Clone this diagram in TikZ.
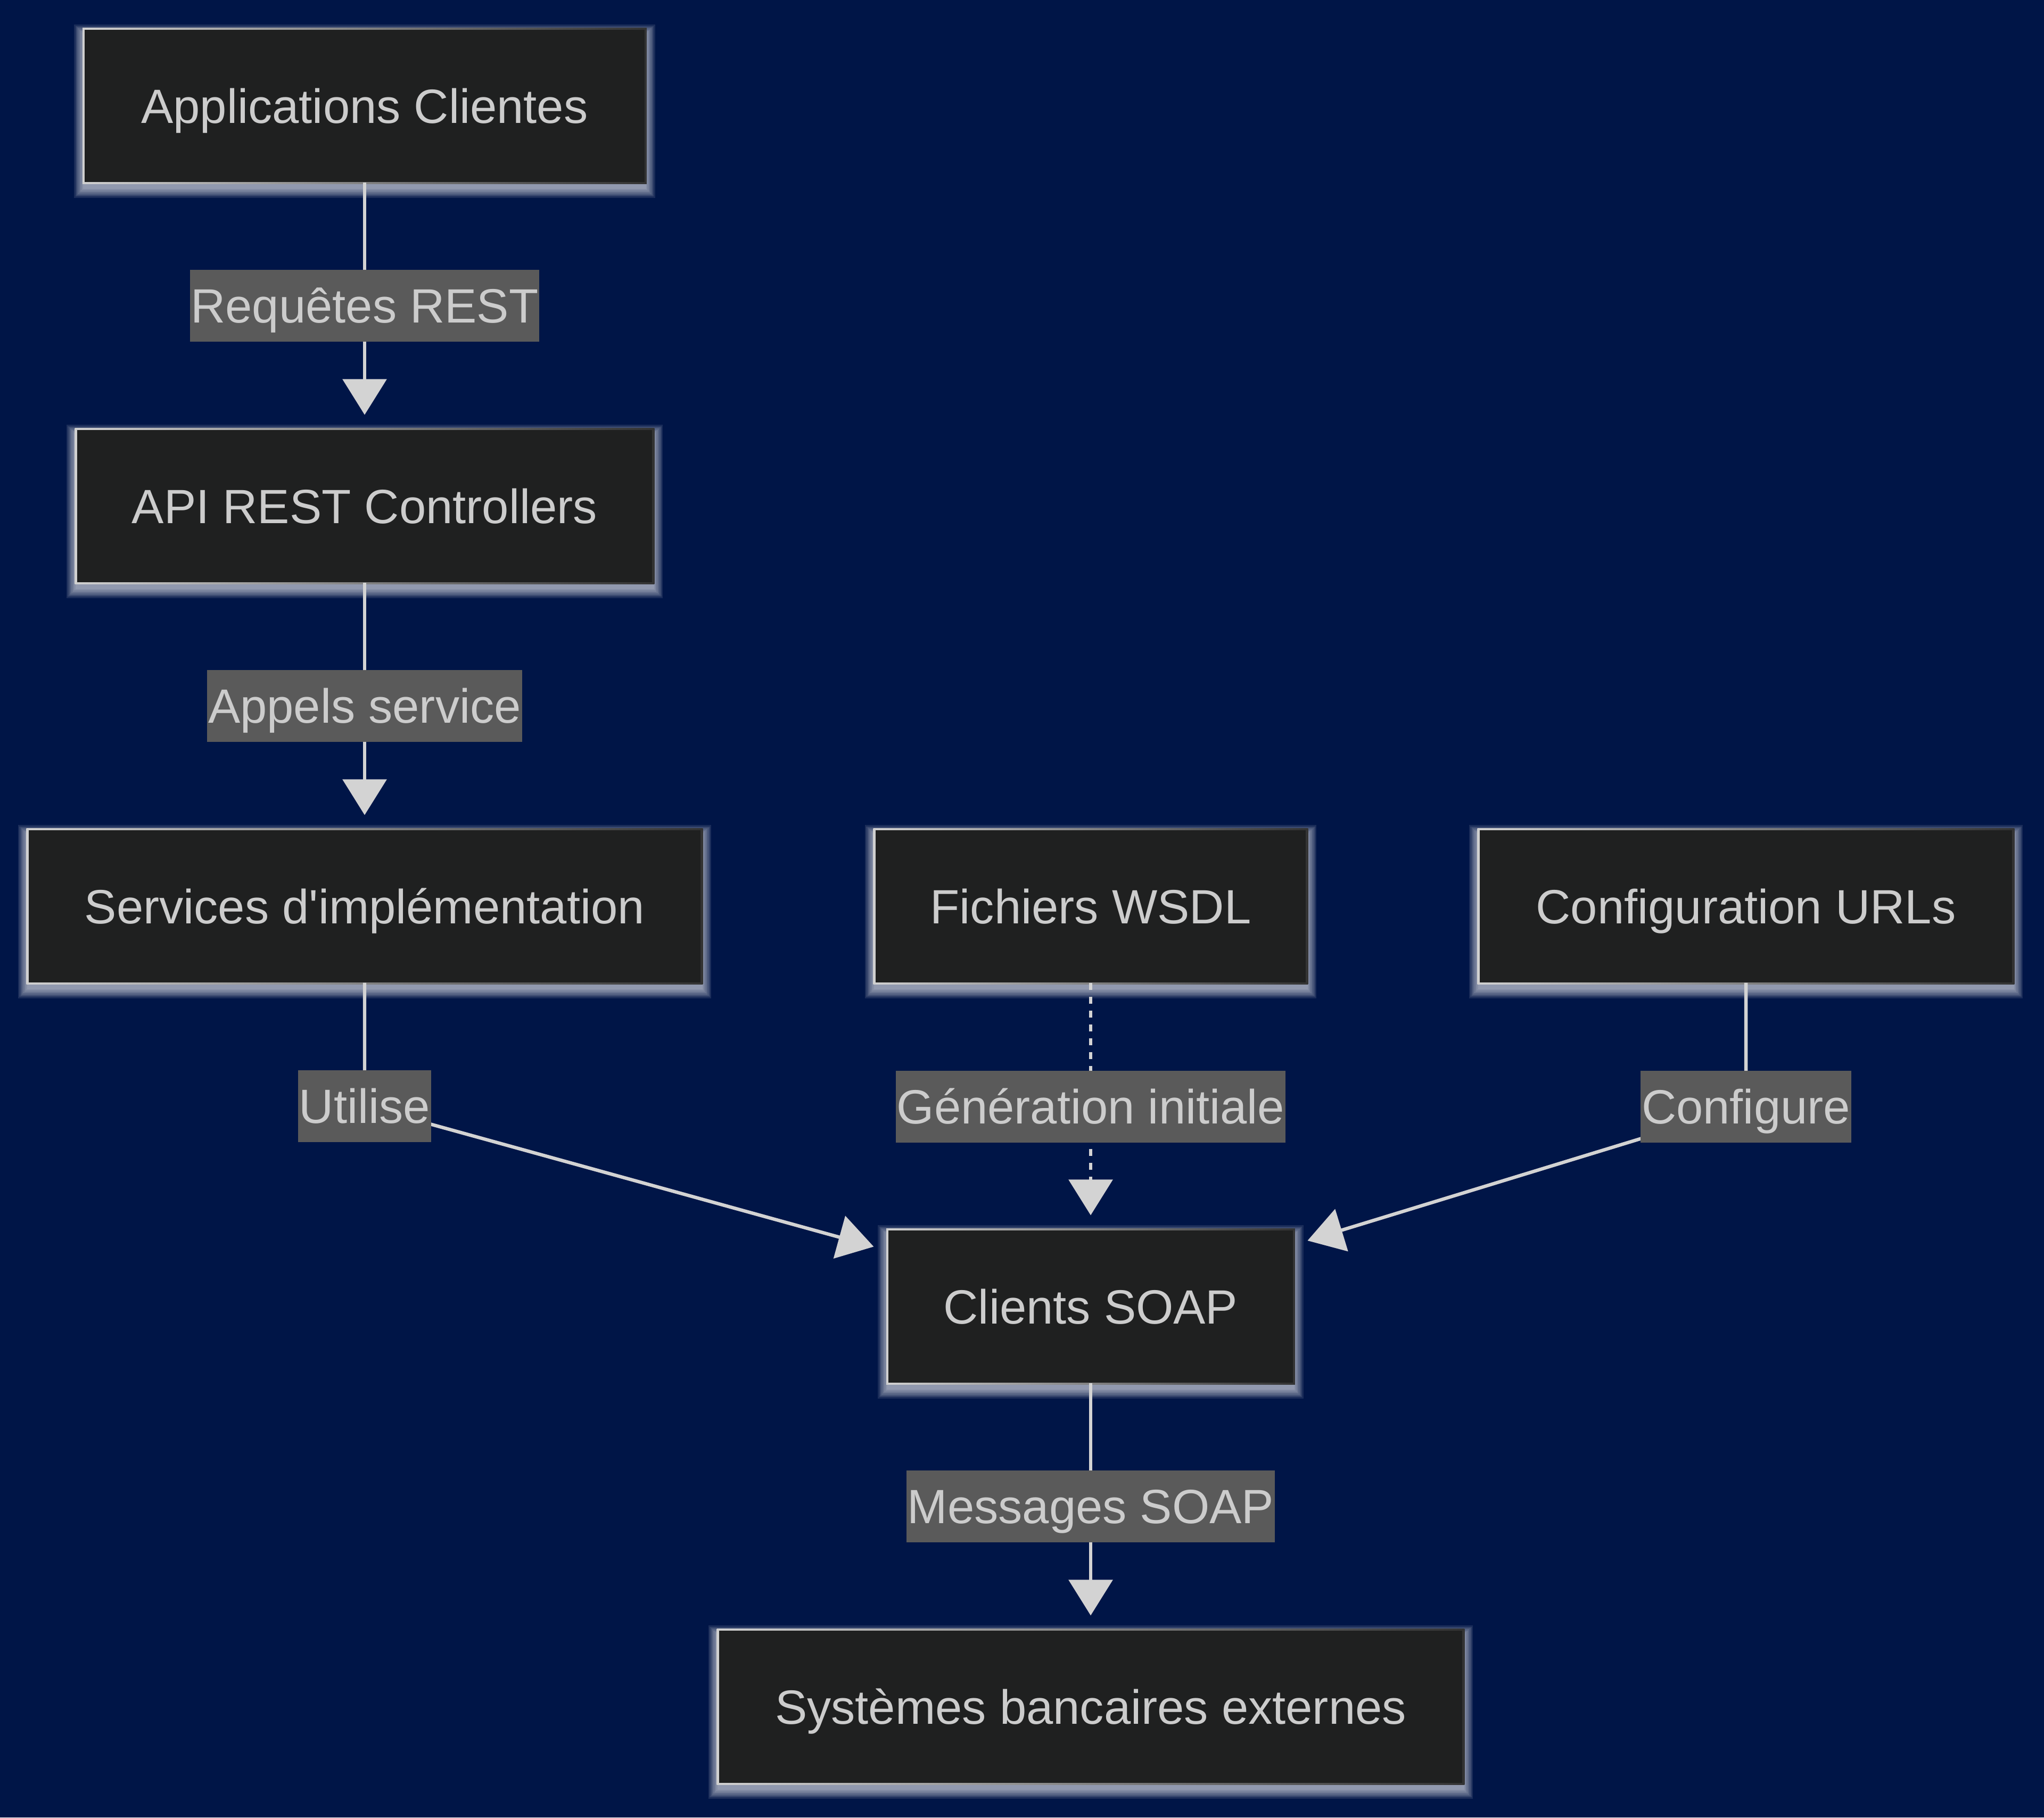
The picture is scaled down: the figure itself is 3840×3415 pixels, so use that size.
\documentclass[tikz,border=0pt]{standalone}
\usepackage{fontspec}
\setmainfont{Liberation Sans}[Ligatures=TeXOff]
\usetikzlibrary{arrows.meta,calc}
\pgfdeclarelayer{bg}
\pgfdeclarelayer{glow}
\pgfdeclarelayer{edges}
\pgfsetlayers{bg,glow,edges,main}
\definecolor{bgc}{RGB}{0,21,71}
\definecolor{nodefill}{HTML}{1F2020}
\definecolor{lblbg}{HTML}{5A5A5A}
\definecolor{txt}{HTML}{CCCCCC}
\definecolor{edgec}{HTML}{D3D3D3}
\definecolor{bordL}{HTML}{D0D0D0}
\definecolor{bordR}{HTML}{333333}
\newcommand\glowbox[1]{%
  \foreach \k in {1,...,8}{%
    \fill[white,opacity=0.1] ([shift={(-\k*0.6pt,-\k*0.6pt-2.5pt)}]#1.south west) rectangle ([shift={(\k*0.6pt,\k*0.6pt-2.5pt)}]#1.north east);
  }%
  \shade[left color=bordL,right color=bordR] ([shift={(-0.8pt,-0.8pt)}]#1.south west) rectangle ([shift={(0.8pt,0.8pt)}]#1.north east);
}
\begin{document}
\begin{tikzpicture}[x=0.25pt,y=-0.25pt, font=\fontsize{22.6pt}{27pt}\selectfont,
  box/.style={fill=nodefill, text=txt, minimum height=71.4pt, inner sep=0pt, text height=20pt, text depth=4pt},
  lbl/.style={fill=lblbg, text=txt, minimum height=33.75pt, inner xsep=0.4pt, inner ysep=0pt, text height=20pt, text depth=4pt},
  edge/.style={draw=edgec, line width=1.6pt, -{Triangle[length=16.75pt,width=20.5pt]}, shorten >=7pt},
]
\begin{pgfonlayer}{bg}
\fill[bgc] (0,0) rectangle (3840,3415);
\end{pgfonlayer}
\useasboundingbox (0,0) rectangle (3840,3415);

\node[box, minimum width=262.9pt] (A) at (685,199) {Applications Clientes};
\node[box, minimum width=270.15pt] (API) at (685,951) {API REST Controllers};
\node[box, minimum width=315.65pt] (S) at (685,1703) {Services d'implémentation};
\node[box, minimum width=202.15pt] (W) at (2049,1703) {Fichiers WSDL};
\node[box, minimum width=250.15pt] (U) at (3280,1703) {Configuration URLs};
\node[box, minimum width=189.9pt] (C) at (2049,2455) {Clients SOAP};
\node[box, minimum width=349.15pt] (E) at (2049,3207) {Systèmes bancaires externes};

\node[lbl] (l1) at (685,574) {Requêtes REST};
\node[lbl] (l2) at (685,1326) {Appels service};
\node[lbl] (l3) at (685,2078) {Utilise};
\node[lbl] (l4) at (2049,2079) {Génération initiale};
\node[lbl] (l5) at (3280,2079) {Configure};
\node[lbl] (l6) at (2049,2830) {Messages SOAP};

\begin{pgfonlayer}{glow}
\glowbox{A}\glowbox{API}\glowbox{S}\glowbox{W}\glowbox{U}\glowbox{C}\glowbox{E}
\end{pgfonlayer}

\begin{pgfonlayer}{edges}
\draw[edge] (A) -- (l1.center) -- (API);
\draw[edge] (API) -- (l2.center) -- (S);
\draw[edge] (S) -- (l3.center) -- (C);
\draw[edge, dash pattern=on 3.25pt off 3.25pt] (W) -- (l4.center) -- (C);
\draw[edge] (U) -- (l5.center) -- (C);
\draw[edge] (C) -- (l6.center) -- (E);
\end{pgfonlayer}
\end{tikzpicture}
\end{document}
